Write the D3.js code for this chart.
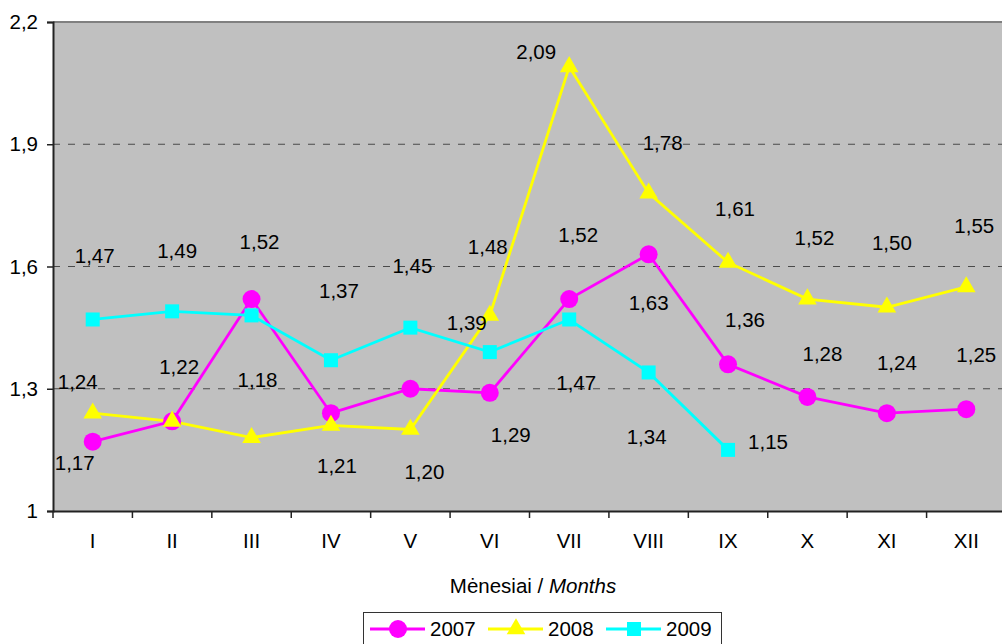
<!DOCTYPE html>
<html><head><meta charset="utf-8">
<script src="https://cdn.jsdelivr.net/npm/d3@7/dist/d3.min.js"></script>
<style>body{margin:0;background:#fff}svg{display:block;font-family:"Liberation Sans",Arial,sans-serif}</style>
</head><body>
<svg id="c" width="1002" height="644"></svg>
<script>
const months = ["I","II","III","IV","V","VI","VII","VIII","IX","X","XI","XII"];
const yTicks = [1, 1.3, 1.6, 1.9, 2.2];
const years = ["2007","2008","2009"];
const values2007 = [1.17,1.22,1.52,1.24,1.30,1.29,1.52,1.63,1.36,1.28,1.24,1.25];
const values2008 = [1.24,1.22,1.18,1.21,1.20,1.48,2.09,1.78,1.61,1.52,1.50,1.55];
const values2009 = [1.47,1.49,1.48,1.37,1.45,1.39,1.47,1.34,1.15];

// label placement (pixel offsets from the point), null = no label shown
const labelPos = {
  "2007": [[-18,21],null,[8,-57],null,null,[21,42],[9,-64],[0,49],[17,-44],[15,-43],[10,-50],[10,-54]],
  "2008": [[-15,-31],[7,-55],[6,-58],[6,40],[14,42],[-2,-69],[-33,-15],[14,-50],[7,-54],[7,-61],[5,-64],[8,-61]],
  "2009": [[2,-64],[5,-61],null,[8,-69],[2,-62],[-23,-29],[7,63],[-2,64],[40,-8]]
};

const series = [
  {name:years[0], values:values2007, color:"#ff00ff", shape:"circle"},
  {name:years[1], values:values2008, color:"#ffff00", shape:"triangle"},
  {name:years[2], values:values2009, color:"#00ffff", shape:"square"}
];

const svg = d3.select("#c");
const L = 53, R = 1006, T = 22, B = 511;
const x = d3.scaleBand().domain(months).range([L, R]);
const y = d3.scaleLinear().domain([1, 2.2]).range([B, T]);
const fmt = v => d3.format(".2f")(v).replace(".", ",");
const fmtTick = v => String(v).replace(".", ",");
const FS = 20.5;
const FF = "Liberation Sans, Arial, sans-serif";

// plot background
svg.append("rect").attr("x", L).attr("y", T).attr("width", R - L).attr("height", B - T).attr("fill", "#c0c0c0");
// top border
svg.append("line").attr("x1", L).attr("x2", R).attr("y1", T).attr("y2", T).attr("stroke", "#808080").attr("stroke-width", 2);

// gridlines
svg.append("g").selectAll("line").data(yTicks.filter(t => t > 1 && t < 2.2)).join("line")
  .attr("x1", L).attr("x2", R).attr("y1", d => y(d)).attr("y2", d => y(d))
  .attr("stroke", "#4a4a4a").attr("stroke-width", 1.2).attr("stroke-dasharray", "7,8");

// y axis
const yAxis = d3.axisLeft(y).tickValues(yTicks).tickFormat(fmtTick).tickSize(6).tickPadding(9);
const gy = svg.append("g").attr("transform", `translate(${L},0)`).call(yAxis);
gy.attr("font-size", FS).attr("font-family", FF);
gy.select(".domain").attr("stroke", "#222").attr("stroke-width", 2);
gy.selectAll(".tick line").attr("stroke", "#222").attr("stroke-width", 1.5);
gy.selectAll(".tick text").attr("fill", "#000");

// x axis
const xAxis = d3.axisBottom(x).tickSize(0).tickPadding(22);
const gx = svg.append("g").attr("transform", `translate(0,${B})`).call(xAxis);
gx.attr("font-size", FS).attr("font-family", FF);
gx.select(".domain").attr("stroke", "#222").attr("stroke-width", 2);
gx.selectAll(".tick text").attr("fill", "#000");
// boundary ticks
svg.append("g").selectAll("line").data(months).join("line")
  .attr("x1", d => x(d)).attr("x2", d => x(d)).attr("y1", B).attr("y2", B + 7)
  .attr("stroke", "#222").attr("stroke-width", 1.5);

// axis title
const title = svg.append("text").attr("x", 533).attr("y", 593).attr("text-anchor", "middle").attr("font-size", FS);
title.append("tspan").text("Mėnesiai / ");
title.append("tspan").attr("font-style", "italic").text("Months");

const cx = i => x(months[i]) + x.bandwidth() / 2;

function drawMarker(g, shape, color, px, py) {
  if (shape === "circle") {
    g.append("circle").attr("cx", px).attr("cy", py).attr("r", 9).attr("fill", color);
  } else if (shape === "square") {
    g.append("rect").attr("x", px - 7).attr("y", py - 7).attr("width", 14).attr("height", 14).attr("fill", color);
  } else {
    const s = d3.symbol().type(d3.symbolTriangle).size(150);
    g.append("path").attr("d", s()).attr("transform", `translate(${px},${py})`).attr("fill", color);
  }
}

const line = d3.line().x((d, i) => cx(i)).y(d => y(d));
const gs = svg.append("g");
series.forEach(s => {
  gs.append("path").datum(s.values).attr("d", line).attr("fill", "none").attr("stroke", s.color).attr("stroke-width", 2.8);
});
series.forEach(s => {
  const g = gs.append("g");
  s.values.forEach((v, i) => drawMarker(g, s.shape, s.color, cx(i), y(v)));
});

// labels
const gl = svg.append("g");
series.forEach(s => {
  s.values.forEach((v, i) => {
    const p = labelPos[s.name][i];
    if (!p) return;
    gl.append("text").attr("x", cx(i) + p[0]).attr("y", y(v) + p[1]).attr("dy", "0.35em")
      .attr("text-anchor", "middle").attr("font-size", FS).attr("fill", "#000").text(fmt(v));
  });
});

// legend
const lg = svg.append("g");
lg.append("rect").attr("x", 363.5).attr("y", 612.5).attr("width", 358).attr("height", 40)
  .attr("fill", "#fff").attr("stroke", "#333").attr("stroke-width", 1);
const legendX = [370, 488, 606];
series.forEach((s, k) => {
  const x0 = legendX[k], ly = 629;
  lg.append("line").attr("x1", x0).attr("x2", x0 + 55).attr("y1", ly).attr("y2", ly).attr("stroke", s.color).attr("stroke-width", 2.8);
  drawMarker(lg, s.shape, s.color, x0 + 28, ly);
  lg.append("text").attr("x", x0 + 60).attr("y", ly).attr("dy", "0.35em").attr("font-size", FS).text(s.name);
});
</script>
</body></html>
